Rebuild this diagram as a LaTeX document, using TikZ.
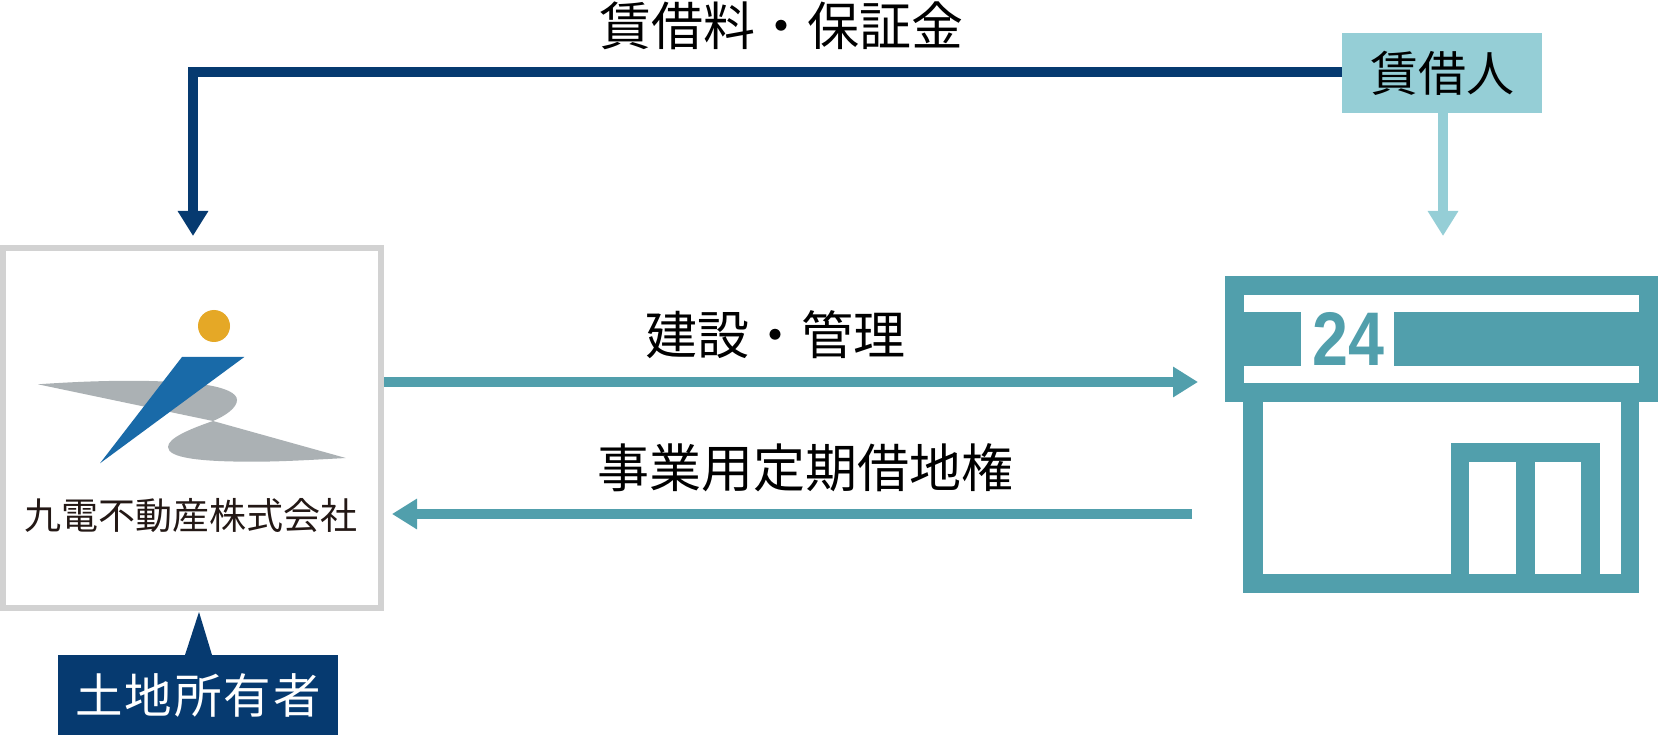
\documentclass[tikz,border=0pt]{standalone}
\usepackage{fontspec}
\usetikzlibrary{arrows.meta}
\setmainfont{Liberation Sans}
\newfontfamily\jp{Noto Sans CJK JP}
\newfontfamily\jpwide[LetterSpace=4]{Noto Sans CJK JP}
\definecolor{navy}{HTML}{063A70}
\definecolor{teal}{HTML}{519FAC}
\definecolor{lightteal}{HTML}{95CED6}
\definecolor{framegray}{HTML}{D2D2D2}
\definecolor{logogray}{HTML}{ABB1B4}
\definecolor{logoblue}{HTML}{196AA8}
\definecolor{logosun}{HTML}{E5A826}
\definecolor{logotext}{HTML}{231815}
\tikzset{
  lab/.style={inner sep=0pt,font=\jp\fontsize{52}{52}\selectfont,text=black},
  tag/.style={inner sep=0pt,minimum width=#1,minimum height=80pt,font=\jp\fontsize{48}{48}\selectfont},
  conn/.style={line width=10.4pt,-{Triangle[length=25pt,width=29pt]}},
  tealfill/.style={fill=teal,draw=none},
  white fill/.style={fill=white,draw=none}
}
\begin{document}
\begin{tikzpicture}[x=1pt,y=-1pt]
\useasboundingbox (0,0) rectangle (1658,735);
% owner frame
\node[draw=framegray,line width=6.4pt,fill=white,minimum width=378pt,minimum height=360pt,inner sep=0pt] (owner) at (192,428) {};
% logo
\fill[logosun] (214,326) circle (16);
\fill[logogray] (38,384.3) .. controls (100,380) and (160,379) .. (207,385)
  .. controls (225,388) and (237,393) .. (237,400)
  .. controls (237,408) and (225,416) .. (213,421) -- cycle;
\fill[logogray] (213,421) -- (345.7,458) .. controls (310,460) and (280,461.7) .. (253,461.7)
  .. controls (200,461.7) and (168,458) .. (168,447)
  .. controls (168,438) and (190,429) .. (213,421) -- cycle;
\fill[logoblue] (182,357) -- (244.3,357) -- (100,463.3) -- cycle;
\node[inner sep=0pt,text=logotext,font=\jp\fontsize{37}{37}\selectfont] (ownername) at (191,516) {九電不動産株式会社};
% land owner tag
\node[tag=280pt,fill=navy,text=white] (landowner) at (198,695) {\jpwide\fontsize{47.5}{47.5}\selectfont 土地所有者};
\coordinate (landtip) at (199,612);
\fill[navy] (185,655) -- (landtip) -- (212,655) -- cycle;
% tenant tag
\node[tag=200pt,fill=lightteal,text=black] (tenant) at (1442,73) {賃借人};
% store
\node[inner sep=0pt,minimum width=433pt,minimum height=317pt] (store) at (1441.5,434.5) {};
\fill[tealfill] (1225,276) rectangle (1658,402);
\fill[white fill] (1244,295) rectangle (1639,383);
\fill[tealfill] (1244,312) rectangle (1301,366);
\fill[tealfill] (1394,312) rectangle (1639,366);
\node[inner sep=0pt,text=teal,font=\bfseries\fontsize{76}{76}\selectfont] (num) at (1348,339) {\scalebox{0.85}[1]{24}};
\fill[tealfill] (1243,402) rectangle (1639,593);
\fill[white fill] (1263,402) rectangle (1621,574);
\fill[tealfill] (1451,443) rectangle (1600,574);
\fill[white fill] (1469,462) rectangle (1516,574);
\fill[white fill] (1535,462) rectangle (1581,574);
% connectors
\coordinate (ownertop) at (193,236);
\coordinate (storetop) at (1443,236);
\coordinate (tenantfoot) at (1443,113);
\coordinate (rightstart) at (384,382);
\coordinate (righttip) at (1198,382);
\coordinate (leftstart) at (1192,514);
\coordinate (lefttip) at (392,514);
\draw[conn,draw=navy] ([yshift=1pt]tenant.west) -| (ownertop);
\draw[conn,draw=lightteal] (tenantfoot) -- (storetop);
\draw[conn,draw=teal] (rightstart) -- (righttip);
\draw[conn,draw=teal] (leftstart) -- (lefttip);
% labels
\node[lab] (rent) at (781,26) {賃借料・保証金};
\node[lab] (build) at (775,335) {建設・管理};
\node[lab] (lease) at (805,468) {事業用定期借地権};
\end{tikzpicture}
\end{document}
